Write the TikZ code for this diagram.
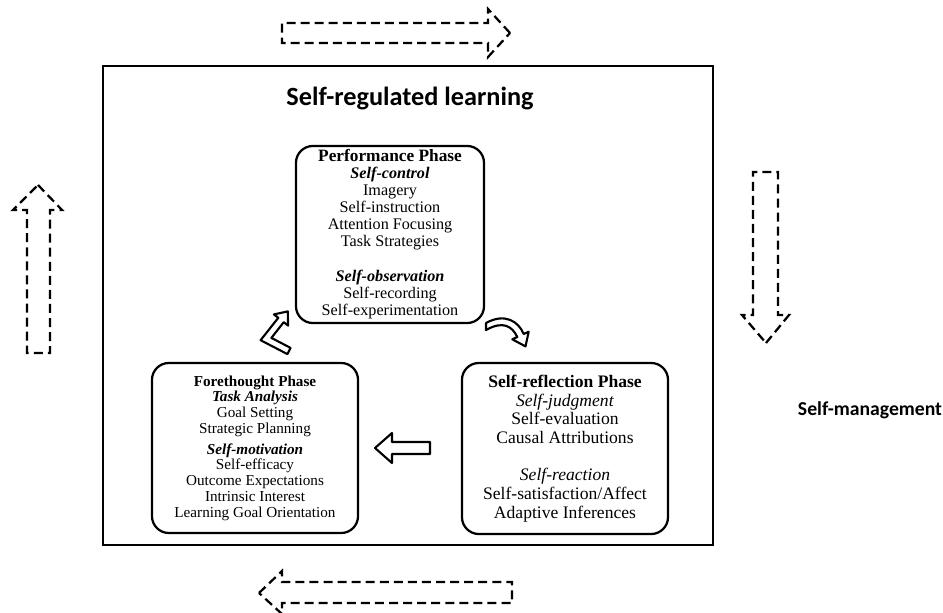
\documentclass[tikz,border=0pt]{standalone}
\usepackage{fontspec}
\setmainfont{Liberation Serif}
\newfontfamily\headfont{Carlito}

\tikzset{
  phasebox/.style={draw, line width=1.6pt, rounded corners=12pt, align=center, inner sep=0pt},
  hollowarrow/.style={draw, line width=1.5pt, line join=round, fill=white},
  dashedarrow/.style={draw, line width=1.6pt, dash pattern=on 6.4pt off 3.6pt}
}

\begin{document}
\begin{tikzpicture}[x=0.025cm, y=-0.025cm]
\useasboundingbox (0,0) rectangle (943,613);

\draw[line width=2pt] (103,66) rectangle (713,545);
\node[anchor=base, font=\headfont\bfseries\fontsize{18.7}{22}\selectfont] (srl) at (410,105) {Self-regulated learning};
\node[anchor=base, font=\headfont\bfseries\fontsize{14}{17}\selectfont] (selfman) at (870,415) {Self-management};

% the three phases
\node[phasebox, minimum width=4.7cm, minimum height=4.425cm, font=\fontsize{11.5}{12.1}\selectfont] (perf) at (390,234.5)
  {\textbf{\fontsize{12.3}{12.1}\selectfont Performance Phase}\\ \textbf{\textit{Self-control}}\\ Imagery\\ Self-instruction\\ Attention Focusing\\ Task Strategies\\[12.8pt]
   \textbf{\textit{Self-observation}}\\ Self-recording\\ Self-experimentation};
\node[phasebox, minimum width=5.15cm, minimum height=4.25cm, font=\fontsize{10.8}{11.2}\selectfont] (fore) at (255,448)
  {\textbf{Forethought Phase}\\ \textbf{\textit{Task Analysis}}\\ Goal Setting\\ Strategic Planning\\[3.6pt]
   \textbf{\textit{Self-motivation}}\\ Self-efficacy\\ Outcome Expectations\\ Intrinsic Interest\\ Learning Goal Orientation};
\node[phasebox, minimum width=5.15cm, minimum height=4.275cm, font=\fontsize{12.5}{13.4}\selectfont] (refl) at (565,448.5)
  {\textbf{Self-reflection Phase}\\ \textit{Self-judgment}\\ Self-evaluation\\ Causal Attributions\\[12.9pt]
   \textit{Self-reaction}\\ Self-satisfaction/Affect\\ Adaptive Inferences};

% cycle arrows
\coordinate (uptip) at (287.8,311.4);
\coordinate (downtail) at (486,330);
\coordinate (backtip) at (375,448);
\draw[hollowarrow] (uptip) -- ++(-13.9,3) -- ++(4.4,3.4) -- ++(-17.7,22.4) -- ++(26.8,13.9)
  -- ++(3.2,-6.2) -- ++(-19.2,-10) -- ++(12.3,-15.7) -- ++(4.4,3.4) -- cycle;
\draw[hollowarrow] (downtail) -- ++(0,-7) .. controls (505,312.5) and (518.5,321.5) .. (523.7,334)
  -- (528.7,331.7) -- (525.5,346.4) -- (512.3,339.3) -- (517.3,337) .. controls (512,326) and (503,320.5) .. (downtail) -- cycle;
\draw[hollowarrow] (backtip) -- ++(17,-15) -- ++(0,9) -- ++(38,0) -- ++(0,12) -- ++(-38,0) -- ++(0,9) -- cycle;

% dashed arrows round the box
\coordinate (toptip) at (510,33);
\coordinate (righttip) at (766,343);
\coordinate (bottip) at (259,593);
\coordinate (lefttip) at (38,185);
\draw[dashedarrow] (toptip) -- ++(-22,-24) -- ++(0,14) -- ++(-206,0) -- ++(0,20) -- ++(206,0) -- ++(0,14) -- cycle;
\draw[dashedarrow] (righttip) -- ++(23,-28) -- ++(-11,0) -- ++(0,-143) -- ++(-25,0) -- ++(0,143) -- ++(-11,0) -- cycle;
\draw[dashedarrow] (bottip) -- ++(23,-22) -- ++(0,11) -- ++(230,0) -- ++(0,21) -- ++(-230,0) -- ++(0,11) -- cycle;
\draw[dashedarrow] (lefttip) -- ++(24,25) -- ++(-12,0) -- ++(0,143) -- ++(-23,0) -- ++(0,-143) -- ++(-14,0) -- cycle;
\end{tikzpicture}
\end{document}
